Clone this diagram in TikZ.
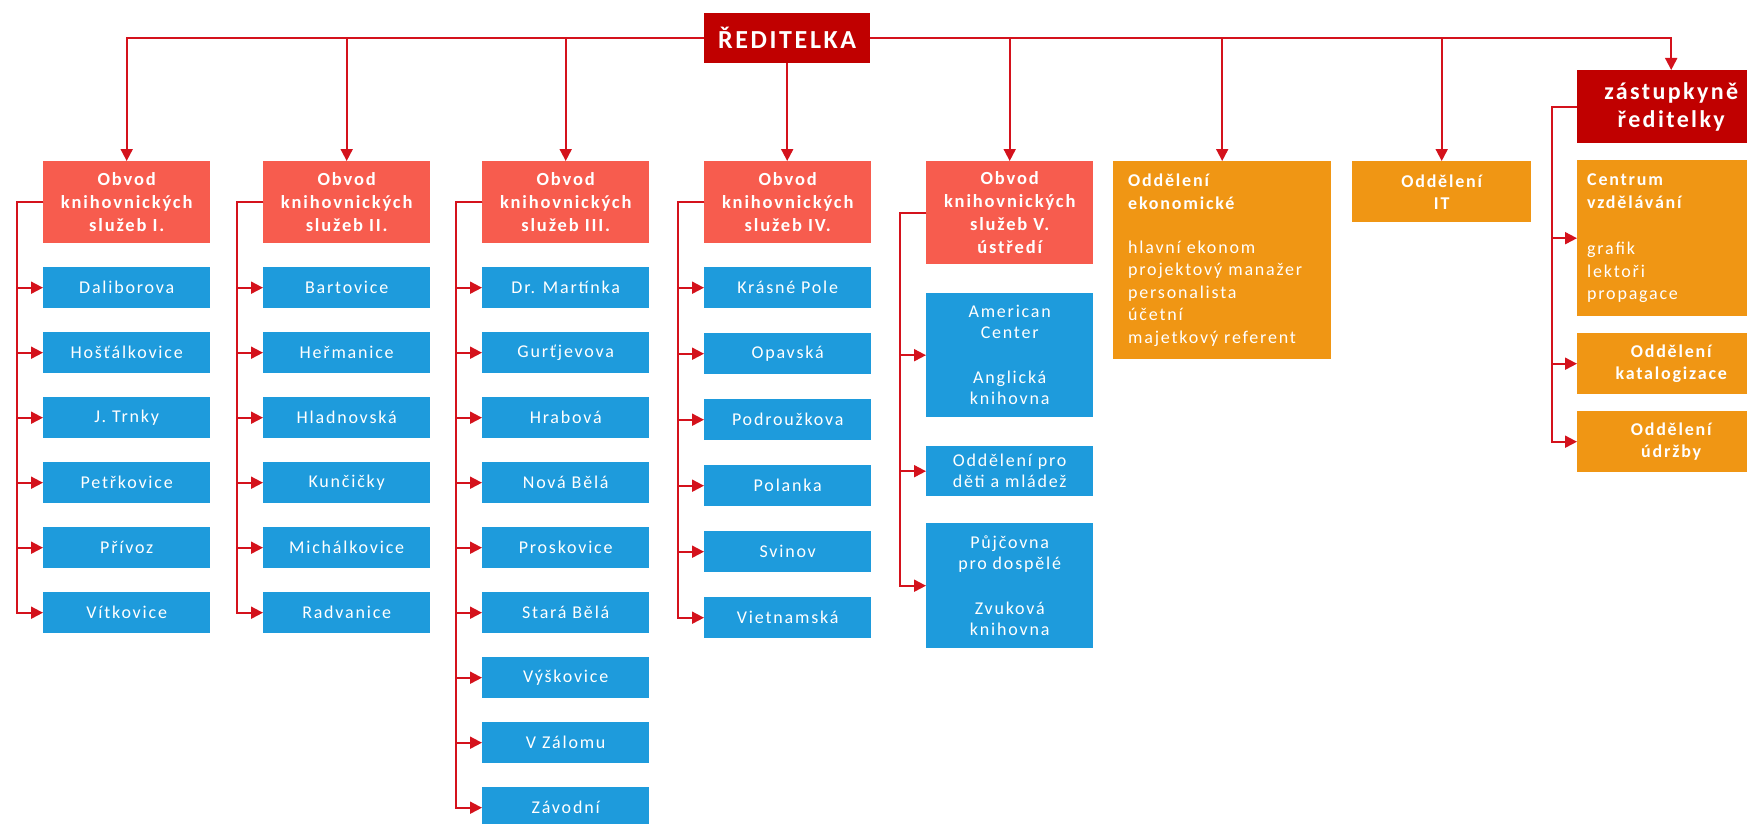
\documentclass[tikz,border=0pt]{standalone}
\usepackage{fontspec}
\newfontfamily\calfont{Carlito}[LetterSpace=10]
\usetikzlibrary{arrows.meta,calc}
\definecolor{dirred}{RGB}{192,0,0}
\definecolor{obvodc}{RGB}{247,92,78}
\definecolor{bluec}{RGB}{30,155,220}
\definecolor{orangec}{RGB}{240,150,20}
\definecolor{linec}{RGB}{212,18,28}
\begin{document}
\begin{tikzpicture}[x=1pt,y=-1pt,
  box/.style={anchor=north west, inner sep=0pt, text=white, align=center},
  hdr/.style={box, fill=obvodc, font=\calfont\bfseries\fontsize{18.5}{23}\selectfont, minimum width=167pt, minimum height=82pt},
  leaf/.style={box, fill=bluec, font=\calfont\fontsize{18}{21}\selectfont, minimum width=167pt, minimum height=41pt},
  topbox/.style={box, fill=dirred, font=\calfont\bfseries\fontsize{26}{30}\selectfont},
  orbox/.style={box, fill=orangec, font=\calfont\bfseries\fontsize{18}{22}\selectfont},
  orlist/.style={box, fill=orangec, align=left, font=\calfont\fontsize{18}{22.5}\selectfont},
  conn/.style={draw=linec, line width=1.9pt},
  arr/.style={conn, -{Triangle[length=12pt,width=12pt]}},
]
\useasboundingbox (0,0) rectangle (1747,824);

% director
\node[topbox, minimum width=166pt, minimum height=50pt] (dir) at (704,13) {ŘEDITELKA};

% district headers
\node[hdr] (h1) at (43,161) {Obvod\\knihovnických\\služeb I.};
\node[hdr] (h2) at (263,161) {Obvod\\knihovnických\\služeb II.};
\node[hdr] (h3) at (482,161) {Obvod\\knihovnických\\služeb III.};
\node[hdr] (h4) at (704,161) {Obvod\\knihovnických\\služeb IV.};
\node[hdr, minimum height=103pt] (h5) at (926,161) {Obvod\\knihovnických\\služeb V.\\ústředí};

% orange departments
\node[orlist, minimum width=218pt, minimum height=198pt, text width=188pt, inner xsep=15pt] (ekon) at (1113,161)
  {\textbf{Oddělení}\\\textbf{ekonomické}\\[21.5pt]hlavní ekonom\\projektový manažer\\personalista\\účetní\\majetkový referent};
\node[orbox, minimum width=179pt, minimum height=61pt] (it) at (1352,161) {Oddělení\\IT};

% deputy
\node[topbox, font=\calfont\bfseries\fontsize{24}{28}\selectfont, minimum width=188pt, minimum height=73pt] (zast) at (1577,70) {zástupkyně\\ředitelky};
\node[orlist, minimum width=188pt, minimum height=156pt, text width=168pt, inner xsep=10pt] (cent) at (1577,160)
  {\textbf{Centrum}\\\textbf{vzdělávání}\\[24pt]grafik\\lektoři\\propagace};
\node[orbox, minimum width=188pt, minimum height=61pt] (kat) at (1577,333) {Oddělení\\katalogizace};
\node[orbox, minimum width=188pt, minimum height=61pt] (udr) at (1577,411) {Oddělení\\údržby};

% leaves
\foreach \t [count=\i] in {Daliborova,Hošťálkovice,J. Trnky,Petřkovice,Přívoz,Vítkovice}
  \node[leaf] (a\i) at (43,{267+65*(\i-1)}) {\t};
\foreach \t [count=\i] in {Bartovice,Heřmanice,Hladnovská,Kunčičky,Michálkovice,Radvanice}
  \node[leaf] (b\i) at (263,{267+65*(\i-1)}) {\t};
\foreach \t [count=\i] in {Dr. Martínka,Gurťjevova,Hrabová,Nová Bělá,Proskovice,Stará Bělá,Výškovice,V Zálomu,Závodní}
  \node[leaf] (c\i) at (482,{267+65*(\i-1)}) {\t};
\foreach \t [count=\i] in {Krásné Pole,Opavská,Podroužkova,Polanka,Svinov,Vietnamská}
  \node[leaf] (d\i) at (704,{267+66*(\i-1)}) {\t};
\node[leaf, minimum height=124pt] (e1) at (926,293) {American\\Center\\[24pt]Anglická\\knihovna};
\node[leaf, minimum height=50pt] (e2) at (926,446) {Oddělení pro\\děti a mládež};
\node[leaf, minimum height=125pt] (e3) at (926,523) {Půjčovna\\pro dospělé\\[24pt]Zvuková\\knihovna};

% top connectors
\foreach \n in {h1,h2,h3} \draw[arr] (dir.west) -| (\n.north);
\draw[arr] (dir.south) -- (dir.south |- h4.north);
\foreach \n in {h5,ekon,it,zast} \draw[arr] (dir.east) -| (\n.north);

% branch connectors
\foreach \i in {1,...,6} \draw[arr] (h1.west) -- ++(-26,0) |- (a\i.west);
\foreach \i in {1,...,6} \draw[arr] (h2.west) -- ++(-26,0) |- (b\i.west);
\foreach \i in {1,...,9} \draw[arr] (h3.west) -- ++(-26,0) |- (c\i.west);
\foreach \i in {1,...,6} \draw[arr] (h4.west) -- ++(-26,0) |- (d\i.west);
\foreach \i in {1,...,3} \draw[arr] (h5.west) -- ++(-26,0) |- (e\i.west);
\foreach \n in {cent,kat,udr} \draw[arr] (zast.west) -- ++(-25,0) |- (\n.west);
\end{tikzpicture}
\end{document}
